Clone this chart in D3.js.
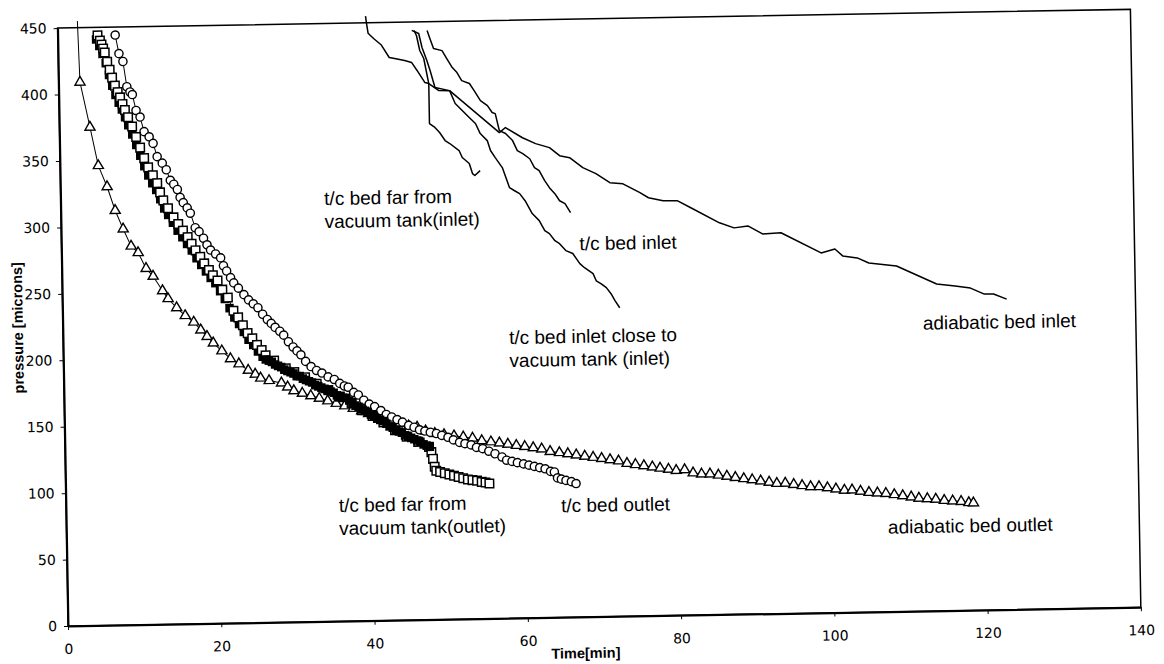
<!DOCTYPE html>
<html>
<head>
<meta charset="utf-8">
<script src="https://cdn.jsdelivr.net/npm/d3@7"></script>
<style>
  body { margin: 0; background: #fff; }
</style>
</head>
<body>
<div id="chart"></div>
<script>
//Tick labels
var xTicks = [0, 20, 40, 60, 80, 100, 120, 140];
var yTicks = [0, 50, 100, 150, 200, 250, 300, 350, 400, 450];

//Series: [time (min), pressure (microns)]
var adiabaticOutlet = [[2.6,455],[2.8,409],[4.0,375],[5.0,346],[6.1,330],[7.1,312],[8.1,298],[9.1,285],[10.0,280],[11.0,268],
  [11.9,262],[13.1,251],[13.8,245],[14.9,238],[16.0,232],[17.1,227],[18.0,221],[18.8,216],[19.6,211],[20.7,205],
  [21.8,199],[22.9,195],[24.1,190],[25.0,187],[25.7,184],[26.8,182],[28.4,180],[29.2,177],[30.0,174],[31.1,172],
  [32.2,170],[33.3,168],[34.4,166],[35.5,164],[36.6,162],[37.7,160],[38.8,158],[39.7,156],[40.6,155],[41.4,153],
  [42.5,150],[43.7,148],[44.9,146],[46.0,145],[47.1,142],[48.3,140],[49.5,139],[50.8,138],[52.0,137],[53.2,136],
  [54.4,134],[55.6,133],[56.7,132],[57.8,131],[58.9,130],[60.0,129],[61.1,128],[62.2,127],[63.3,125],[64.5,124],
  [65.6,123],[66.7,122],[67.8,121],[68.9,120],[70.0,119],[71.1,118],[72.2,117],[73.3,115],[74.4,114],[75.5,113],
  [76.6,112],[77.6,111],[78.7,110],[79.7,109],[80.8,109.5],[81.9,107],[83.0,106],[84.1,106],[85.2,105],[86.3,104],
  [87.4,103],[88.5,102],[89.6,101],[90.7,100],[91.8,99],[92.8,98],[93.9,98],[95.0,97],[96.1,96],[97.2,95],
  [98.3,95],[99.4,94],[100.5,93],[101.6,92],[102.6,92],[103.7,91],[104.8,90],[105.9,89.5],[107.0,89],[108.1,88],
  [109.2,87],[110.3,86],[111.3,85],[112.4,84.5],[113.5,84],[114.6,83],[115.7,82.5],[116.8,82],[117.8,81],[118.4,80.7]];

var tcOutlet = [[7.5,444],[7.95,430],[8.45,424],[8.9,405],[9.3,401],[9.6,399],[10.05,387],[10.56,382],[11.05,371],[11.7,367],
  [12.2,362],[12.7,352],[13.35,347],[13.86,342],[14.36,334],[14.8,331],[15.26,327],[15.6,321],[16.0,317],[16.5,313],
  [16.9,309],[17.5,298],[18.0,295],[18.56,290],[19.0,285],[19.45,281],[20.1,278],[20.75,275],[21.1,269],[21.5,265],
  [22.0,260],[22.4,256],[23.0,252],[23.7,247],[24.3,243],[24.9,240],[25.5,237],[26.1,232],[26.7,228],[27.2,225],
  [27.7,222],[28.3,219],[28.8,216],[29.4,211],[30.0,207],[30.5,204],[31.0,201],[31.6,196],[32.3,192],[33.0,189],
  [33.7,187],[34.5,184],[35.3,182],[36.0,179],[36.6,177],[37.1,176],[37.8,172],[38.4,170],[39.1,166],[39.8,163],
  [40.5,161],[41.3,158],[42.0,155],[42.7,153],[43.4,151],[44.1,149],[44.9,146.5],[45.6,145],[46.3,143],[47.0,142],
  [47.7,141],[48.5,140],[49.2,138.5],[50.0,137],[50.7,135],[51.5,133],[52.2,132],[53.0,131],[53.7,129],[54.5,128],
  [55.3,126],[56.1,124],[57.0,121.5],[57.6,119],[58.3,118],[59.0,117],[59.8,116],[60.5,115],[61.2,114],[61.9,113],
  [62.6,112],[63.3,110],[63.8,109.5],[64.2,105],[64.7,104],[65.3,103],[66.0,102],[66.6,100.5]];

var farOutletOpen = [[5.2,444],[5.5,440],[5.7,437],[5.9,434],[6.1,431],[6.4,424],[6.7,418],[7.0,412],[7.35,406],[7.7,401],
  [8.0,397],[8.3,392],[8.6,387.5],[9.0,382],[9.5,375],[10.0,367],[10.5,359],[11.0,351],[11.5,344],[12.1,338],
  [12.65,332],[13.0,325],[13.4,319],[14.0,313],[14.7,306],[15.3,301],[15.9,296],[16.5,291],[17.0,286],[17.5,281],
  [18.1,276],[18.6,271],[19.2,266],[19.7,262],[20.3,258],[20.9,251],[21.6,245],[22.3,235],[22.9,230],[23.5,224],
  [24.1,218],[24.7,214],[25.3,209],[25.9,205],[26.4,201],[27.5,197],[29.0,191],[30.1,188],[31.5,184],[33.0,179],
  [34.5,174],[36.0,169],[37.5,164],[38.8,158.5],[40.2,154],[41.6,149],[43.1,143],[44.6,138],[46.1,134],[47.5,130],
  [47.8,126],[48.0,121],[48.2,115],[48.4,112],[48.9,111],[49.5,110],[50.1,109],[50.7,108],[51.3,107],[51.9,106],
  [52.5,105],[53.1,104.5],[53.7,104],[54.3,103],[54.8,102.5],[55.3,101.7]];

var farOutletFilled = [[5.0,441],[5.4,436],[5.8,430],[6.2,423],[6.6,414],[7.0,406],[7.4,399],[7.8,393],[8.2,388],[8.6,382],
  [9.0,376],[9.5,369],[10.0,361],[10.5,353],[11.0,345],[11.5,338],[12.0,332],[12.5,327],[13.0,320],[13.5,313],
  [14.0,308],[14.6,302],[15.2,296],[15.8,291],[16.4,286],[17.0,281],[17.6,275],[18.2,270],[18.8,265],[19.4,260],
  [20.0,256],[20.6,250],[21.2,244],[21.8,237],[22.4,230],[23.0,225],[23.6,219],[24.2,213],[24.8,209],[25.4,204],
  [26.0,200],[26.4,198],[26.8,197],[27.2,196],[27.6,194],[28.0,193],[28.4,192],[28.8,190],[29.2,189],[29.6,188],
  [30.0,187],[30.4,185],[30.8,185],[31.2,183],[31.6,182],[32.0,181],[32.4,180],[32.8,178],[33.2,177],[33.6,176],
  [34.0,175],[34.4,174],[34.8,173],[35.2,172],[35.6,170],[36.0,169],[36.4,168],[36.8,168],[37.2,166],[37.6,164],
  [38.0,162],[38.4,161],[38.8,159],[39.2,158],[39.6,157],[40.0,155],[40.4,154],[40.8,152],[41.2,151],[41.6,150],
  [42.0,148],[42.4,146],[42.8,145],[43.2,143],[43.6,142],[44.0,141],[44.4,139],[44.8,138],[45.2,137],[45.6,136],
  [46.0,135],[46.4,134],[46.8,132],[47.2,131],[47.6,130]];

var adiabaticInlet = [[40.2,455],[40.3,450],[40.5,442],[41.2,438],[42.2,433],[43.2,423.5],[43.9,422.7],[45.2,421],[46.1,419.5],[46.8,413.4],
  [47.8,404.2],[48.3,403.4],[49.6,398],[51.0,397.8],[57.4,365.6],[58.2,369.3],[60.4,361.4],[62.1,356.8],[63.9,353.6],[65.2,347.4],
  [66.5,345.8],[68.2,338.1],[69.9,333.4],[71.7,326.4],[73.4,325.4],[75.6,318.5],[76.7,314.6],[78.6,312.1],[80.5,311.9],[82.2,306.5],
  [85.9,294.8],[87.8,290.8],[89.6,292.1],[91.5,285.9],[93.9,286.5],[99.1,270.8],[100.9,273.6],[101.9,268.3],[103.8,266.6],[105.3,262.6],
  [108.9,260],[114.1,245.9],[116.5,244.1],[118.5,242.4],[120.3,237.7],[121.5,237.6],[123.2,233.6]];

var farInlet = [[46.5,443.5],[46.8,439.7],[47.2,428.4],[47.7,422.3],[48.3,403.4],[48.3,373.3],[49.0,370.3],[49.6,366.4],
  [50.3,360.3],[50.9,358],[52.1,352.6],[52.5,347.3],[53.4,342.7],[53.8,335.1],[54.1,333.6],[54.8,337.2]];

var tcInlet = [[48.2,443.3],[48.5,438],[49.0,429.7],[50.1,428],[50.7,422],[51.4,415.1],[52.0,411.3],[52.6,405.2],[53.6,402.9],[54.2,397.5],
  [55.0,389.9],[55.9,386],[56.5,380.8],[56.9,379.9],[57.4,367.1],[58.2,364.8],[59.1,359.4],[59.7,351.8],[60.4,349.4],[61.3,345.5],
  [61.9,338.8],[62.5,336.4],[63.2,328.8],[63.8,323.5],[64.5,318.9],[65.1,313.5],[65.8,311.3],[66.5,304.4]];

var closeInlet = [[46.2,443.6],[47.1,441.2],[47.5,430.6],[48.1,420.8],[48.5,413.2],[49.1,400.3],[51.0,397.8],[51.7,388],[52.6,382.7],[53.5,377.3],
  [54.3,372.7],[54.9,365.1],[55.8,359.7],[56.2,352.2],[56.8,346.8],[57.7,339.2],[58.6,324],[59.2,321.8],[59.9,319.4],[60.6,314],
  [61.5,304.2],[62.4,298.8],[63.1,291.2],[63.7,288.9],[64.4,283.5],[65.0,281.2],[65.8,275.9],[66.7,273.6],[67.6,265.9],[68.2,262.8],
  [69.3,258.2],[69.7,252.8],[70.3,250.6],[71.0,247.5],[71.6,242.9],[72.1,237.6],[72.7,232.2]];

//Annotations: text lines and anchor in data units
var labels = [
  { lines: ["t/c bed far from", "vacuum tank(inlet)"], t: 34.4, p: 318.3 },
  { lines: ["t/c bed inlet"], t: 67.6, p: 281.0 },
  { lines: ["t/c bed inlet close to", "vacuum tank (inlet)"], t: 58.2, p: 211.3 },
  { lines: ["adiabatic bed inlet"], t: 112.2, p: 216.7 },
  { lines: ["t/c bed far from", "vacuum tank(outlet)"], t: 35.6, p: 87.2 },
  { lines: ["t/c bed outlet"], t: 64.6, p: 84.1 },
  { lines: ["adiabatic bed outlet"], t: 107.2, p: 63.7 }
];

//Setup
var width = 1164, height = 664;
var x = d3.scaleLinear().domain([0, 140]).range([68, 1141]);
var y = d3.scaleLinear().domain([0, 450]).range([626, 28]);
var labelFont = "'Liberation Sans', Arial, sans-serif";

var svg = d3.select("#chart")
    .append("svg")
    .attr("width", width)
    .attr("height", height)
    .style("background", "#fff");

//the scanned page sits about one degree off level
var g = svg.append("g")
    .attr("transform", "rotate(-1, 68, 626)");

//Plot frame
g.append("rect")
    .attr("x", x(0))
    .attr("y", y(450))
    .attr("width", x(140) - x(0))
    .attr("height", y(0) - y(450))
    .attr("fill", "none")
    .attr("stroke", "#000")
    .attr("stroke-width", 1.5);

//Axes
var xAxis = g.append("g")
    .attr("transform", `translate(0, ${y(0)})`)
    .call(d3.axisBottom(x).tickValues(xTicks).tickSize(4).tickSizeOuter(0).tickPadding(14));
var yAxis = g.append("g")
    .attr("transform", `translate(${x(0)}, 0)`)
    .call(d3.axisLeft(y).tickValues(yTicks).tickSize(4).tickSizeOuter(0).tickPadding(7));

[xAxis, yAxis].forEach(ax => {
    ax.select(".domain").attr("stroke", "#000").attr("stroke-width", 2);
    ax.selectAll(".tick line").attr("stroke", "#000");
    ax.selectAll(".tick text")
        .attr("fill", "#000")
        .attr("font-family", "'DejaVu Sans', sans-serif")
        .attr("font-size", 14);
});

//Axis titles
g.append("text")
    .attr("x", x(67.5))
    .attr("y", y(0) + 36)
    .attr("dy", "0.35em")
    .attr("text-anchor", "middle")
    .attr("font-family", labelFont)
    .attr("font-weight", "bold")
    .attr("font-size", 14.5)
    .text("Time[min]");

g.append("text")
    .attr("transform", `translate(${x(0) - 45}, ${y(225)}) rotate(-90)`)
    .attr("dy", "0.35em")
    .attr("text-anchor", "middle")
    .attr("font-family", labelFont)
    .attr("font-weight", "bold")
    .attr("font-size", 14.5)
    .text("pressure [microns]");

var line = d3.line()
    .x(function (d) { return x(d[0]); })
    .y(function (d) { return y(d[1]); });

function drawLine(data, w) {
    g.append("path")
        .attr("d", line(data))
        .attr("fill", "none")
        .attr("stroke", "#000")
        .attr("stroke-width", w)
        .attr("stroke-linejoin", "round");
}

//Inlet thermocouple traces (plain lines)
drawLine(adiabaticInlet, 1.5);
drawLine(farInlet, 1.5);
drawLine(tcInlet, 1.5);
drawLine(closeInlet, 1.5);

//Adiabatic bed outlet: triangles
drawLine(adiabaticOutlet, 1);
g.append("g").selectAll("path")
    .data(adiabaticOutlet.filter(d => d[1] <= 450))
    .enter().append("path")
    .attr("d", d3.symbol().type(d3.symbolTriangle).size(44))
    .attr("transform", d => `translate(${x(d[0])}, ${y(d[1])})`)
    .attr("fill", "#fff")
    .attr("stroke", "#000")
    .attr("stroke-width", 1.4);

//t/c bed outlet: circles
drawLine(tcOutlet, 1);
g.append("g").selectAll("circle")
    .data(tcOutlet)
    .enter().append("circle")
    .attr("cx", d => x(d[0]))
    .attr("cy", d => y(d[1]))
    .attr("r", 4.1)
    .attr("fill", "#fff")
    .attr("stroke", "#000")
    .attr("stroke-width", 1.4);

//t/c bed far from vacuum tank (outlet): filled squares under, open squares, dense filled run on top
var sq = 8.5;
function drawFilled(data) {
    g.append("g").selectAll("rect")
        .data(data)
        .enter().append("rect")
        .attr("x", d => x(d[0]) - sq / 2)
        .attr("y", d => y(d[1]) - sq / 2)
        .attr("width", sq)
        .attr("height", sq)
        .attr("fill", "#000");
}
drawFilled(farOutletFilled.filter(d => d[0] < 26.3));

drawLine(farOutletOpen, 1);
g.append("g").selectAll("rect")
    .data(farOutletOpen)
    .enter().append("rect")
    .attr("x", d => x(d[0]) - sq / 2)
    .attr("y", d => y(d[1]) - sq / 2)
    .attr("width", sq)
    .attr("height", sq)
    .attr("fill", "#fff")
    .attr("stroke", "#000")
    .attr("stroke-width", 1.5);

drawFilled(farOutletFilled.filter(d => d[0] >= 26.3));

//Annotations
labels.forEach(function (lab) {
    var t = g.append("text")
        .attr("font-family", labelFont)
        .attr("font-size", 19)
        .attr("fill", "#000");
    lab.lines.forEach(function (s, i) {
        t.append("tspan")
            .attr("x", x(lab.t))
            .attr("y", y(lab.p) + i * 23)
            .attr("dy", "0.35em")
            .text(s);
    });
});
</script>
</body>
</html>
